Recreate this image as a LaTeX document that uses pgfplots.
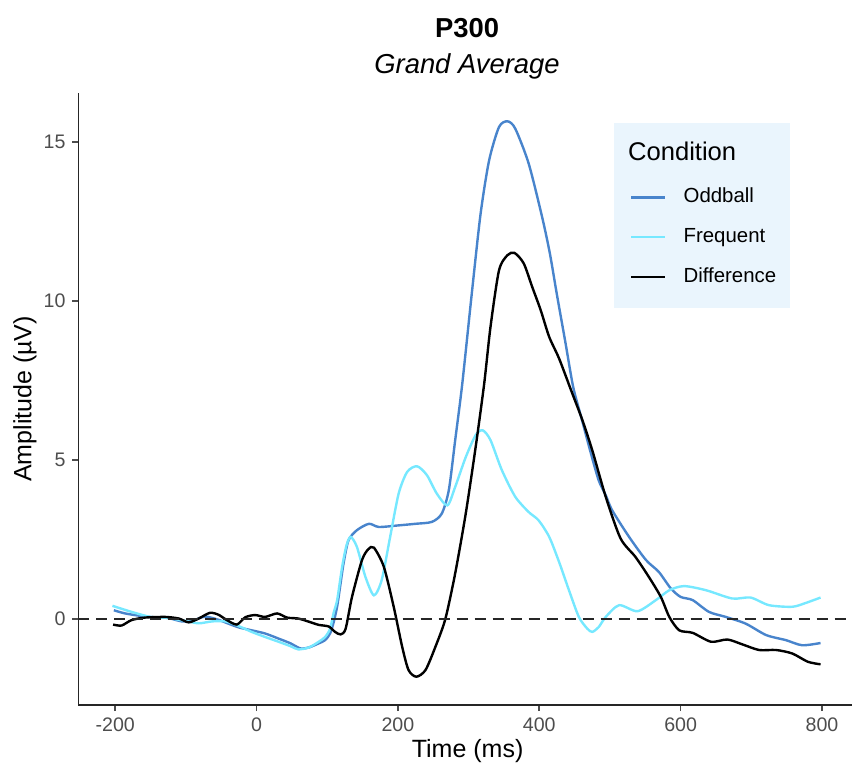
\documentclass[border=0pt]{standalone}
\usepackage{pgfplots}
\pgfplotsset{compat=1.18}
\usepackage{fontspec}
\setmainfont{Liberation Sans}
\definecolor{oddball}{RGB}{72,132,204}
\definecolor{frequent}{RGB}{118,232,255}
\definecolor{legbg}{RGB}{234,245,253}
\definecolor{tickgray}{RGB}{77,77,77}

\begin{document}
\begin{tikzpicture}
\begin{axis}[
    scale only axis,
    width=386.75pt, height=306pt,
    xmin=-252, xmax=842.5, ymin=-2.7, ymax=16.55,
    axis lines=left,
    axis line style={-, line width=0.8pt, black!85},
    xtick={-200,0,200,400,600,800},
    xticklabels={-200,0,200,400,600,800},
    ytick={0,5,10,15},
    tick align=outside,
    major tick length=3pt,
    tick style={line width=0.8pt, black!70},
    ticklabel style={font=\fontsize{9.8}{11}\selectfont, text=tickgray},
    /pgf/number format/assume math mode=true,
    xlabel={Time (ms)},
    ylabel={Amplitude (µV)},
    label style={font=\fontsize{12.5}{14}\selectfont},
    xlabel style={at={(axis description cs:0.503,-0.0752)}, anchor=center},
    ylabel style={at={(axis description cs:-0.0692,0.5)}, anchor=center},
    legend cell align=left,
    legend image code/.code={\draw[#1] (0pt,0pt) -- (17pt,0pt);},
    legend style={at={(rel axis cs:0.705,0.852)}, anchor=north west,
        draw=none, fill=none, font=\fontsize{10.2}{12}\selectfont,
        nodes={inner sep=0pt, text height=7.5pt, text depth=2.2pt},
        column sep=8.5pt, row sep=10.1pt},
    every axis plot/.append style={line width=1.2pt, smooth, tension=0.45},
]
% legend background
\fill[legbg] (rel axis cs:0.6923,0.6487) rectangle (rel axis cs:0.9198,0.951);

\addplot[oddball] coordinates {
(-202,0.28) (-186,0.18) (-163,0.10) (-145,0.06) (-126,0.04) (-106,-0.07)
(-92,-0.06) (-73,0.08) (-54,-0.02) (-40,-0.14) (-25,-0.26) (-7,-0.35)
(12,-0.45) (31,-0.61) (48,-0.76) (62,-0.92) (74,-0.89) (88,-0.76) (97,-0.66)
(104,-0.45) (109,-0.1) (114,0.4) (118,1.0) (123,1.75) (130,2.48) (142,2.8)
(159,3.0) (173,2.9) (201,2.95) (225,3.0) (248,3.06) (262,3.32) (272,4.06)
(281,5.63) (291,7.4) (305,10.35) (317,12.76) (329,14.43) (343,15.48)
(355,15.66) (366,15.43) (385,14.33) (404,12.65) (415,11.5) (425,10.2)
(437,8.7) (448,7.3) (460,6.3) (472,5.3) (484,4.37) (494,3.9) (503,3.43)
(527,2.59) (551,1.86) (569,1.49) (586,0.97) (600,0.7) (617,0.6) (640,0.23)
(664,0.07) (692,-0.14) (721,-0.5) (749,-0.66) (772,-0.82) (798,-0.75)
};
\addlegendentry{Oddball}

\addplot[frequent] coordinates {
(-204,0.42) (-177,0.23) (-150,0.07) (-126,0.04) (-102,-0.05) (-82,-0.13)
(-63,-0.07) (-44,-0.07) (-25,-0.22) (-7,-0.4) (12,-0.56) (31,-0.71)
(48,-0.85) (59,-0.95) (74,-0.89) (88,-0.71) (97,-0.56) (104,-0.3) (109,0.2)
(114,0.6) (121,1.64) (127,2.3) (133,2.59) (142,2.27) (154,1.33) (166,0.75)
(177,1.23) (189,2.59) (201,3.95) (213,4.63) (227,4.81) (241,4.53) (255,3.95)
(270,3.58) (281,4.16) (296,5.1) (310,5.79) (320,5.94) (331,5.63) (347,4.69)
(366,3.85) (385,3.37) (399,3.11) (414,2.59) (428,1.8) (442,0.91) (456,0.07)
(468,-0.3) (475,-0.4) (484,-0.25) (494,0.07) (513,0.44) (539,0.25)
(565,0.6) (584,0.91) (605,1.04) (636,0.91) (673,0.65) (699,0.68) (725,0.44)
(758,0.39) (777,0.51) (798,0.68)
};
\addlegendentry{Frequent}

\addplot[black] coordinates {
(-203,-0.17) (-191,-0.2) (-177,-0.03) (-158,0.05) (-129,0.07) (-110,0.02)
(-96,-0.1) (-82,0.02) (-66,0.2) (-54,0.14) (-42,-0.03) (-28,-0.17)
(-16,0.06) (-2,0.13) (12,0.07) (29,0.18) (43,0.05) (59,0.02) (74,-0.08)
(88,-0.18) (102,-0.23) (111,-0.4) (119,-0.48) (126,-0.3) (135,0.7)
(149,1.85) (158,2.2) (166,2.25) (180,1.65) (194,0.39) (206,-0.87) (215,-1.6)
(226,-1.81) (239,-1.6) (253,-0.87) (267,0) (281,1.44) (296,3.33) (310,5.42)
(322,7.4) (331,9.2) (343,10.97) (355,11.45) (365,11.52) (378,11.19)
(390,10.45) (402,9.72) (414,8.88) (428,8.2) (445,7.2) (461,6.26) (475,5.31)
(494,3.85) (515,2.54) (536,1.96) (555,1.33) (572,0.7) (584,0.07) (598,-0.35)
(617,-0.43) (643,-0.71) (666,-0.64) (687,-0.79) (711,-0.97) (735,-0.97)
(758,-1.08) (780,-1.34) (798,-1.42)
};
\addlegendentry{Difference}

% zero reference line
\addplot[black!85, line width=1.15pt, dash pattern=on 5.5pt off 3.5pt, sharp plot, forget plot]
    coordinates {(-252,0) (842.5,0)};
\end{axis}

\node[font=\bfseries\fontsize{13.7}{16}\selectfont] at (194.25pt,338.5pt) {P300};
\node[font=\itshape\fontsize{13.7}{16}\selectfont] at (194.25pt,319.5pt) {Grand Average};
\node[anchor=west, font=\fontsize{12.8}{14}\selectfont] at (271.25pt,277pt) {Condition};

\pgfresetboundingbox
\useasboundingbox (-39.25pt,-31.5pt) rectangle (386.75pt,352.5pt);
\end{tikzpicture}
\end{document}
